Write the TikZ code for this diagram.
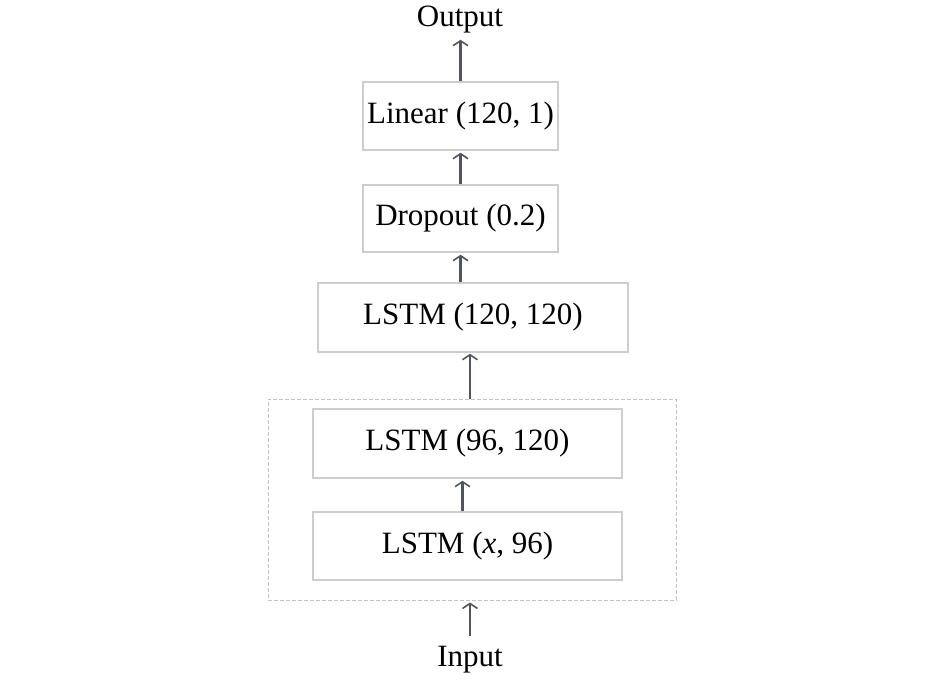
\documentclass[tikz,border=0pt]{standalone}
\usepackage{fontspec}
\setmainfont{Liberation Serif}
\usetikzlibrary{arrows.meta,calc}
\definecolor{boxgray}{RGB}{205,205,205}
\definecolor{dashgray}{RGB}{195,195,195}
\definecolor{arrgray}{RGB}{80,85,95}
\tikzset{
  layer/.style={draw=boxgray, line width=1.5pt, fill=white, inner sep=0pt, font=\fontsize{31}{36}\selectfont},
  lbl/.style={inner sep=0pt, font=\fontsize{31}{36}\selectfont},
  arr/.style={draw=arrgray, line width=2.6pt, -{Straight Barb[length=5pt,width=15pt,line width=1.6pt]}},
  grp/.style={draw=dashgray, line width=1pt, dash pattern=on 4pt off 2pt, inner sep=0pt}
}
\begin{document}
\begin{tikzpicture}[x=1pt,y=-1pt]
\useasboundingbox (0,0) rectangle (945,680);
\node[grp, minimum width=408pt, minimum height=201pt] (group) at (472,499.5) {};
\node[layer, minimum width=195pt, minimum height=68pt] (lin) at (460.5,116) {Linear (120, 1)};
\node[layer, minimum width=195pt, minimum height=67pt] (drop) at (460.5,218.5) {Dropout (0.2)};
\node[layer, minimum width=310pt, minimum height=69pt] (l120) at (473,317.5) {LSTM (120, 120)};
\node[layer, minimum width=309pt, minimum height=69pt] (l96) at (467.5,443.5) {LSTM (96, 120)};
\node[layer, minimum width=309pt, minimum height=68pt] (lx) at (467.5,546) {LSTM (\textit{x}, 96)};
\node[lbl] (out) at (460,20) {Output};
\node[lbl] (in) at (470,660) {Input};
\draw[arr] (lin.north) -- ([yshift=-6pt]lin.north |- out.south);
\draw[arr] (drop.north) -- ([yshift=-2pt]lin.south);
\draw[arr] (drop.south |- l120.north) -- ([yshift=-2pt]drop.south);
\draw[arr] ([xshift=-2pt]group.north) -- ([xshift=-2pt,yshift=-1pt]group.north |- l120.south);
\draw[arr] ([xshift=-5pt]lx.north) -- ([xshift=-5pt,yshift=-2pt]l96.south);
\draw[arr] ([yshift=10pt]in.north) -- ([yshift=-2pt]in.north |- group.south);
\end{tikzpicture}
\end{document}
